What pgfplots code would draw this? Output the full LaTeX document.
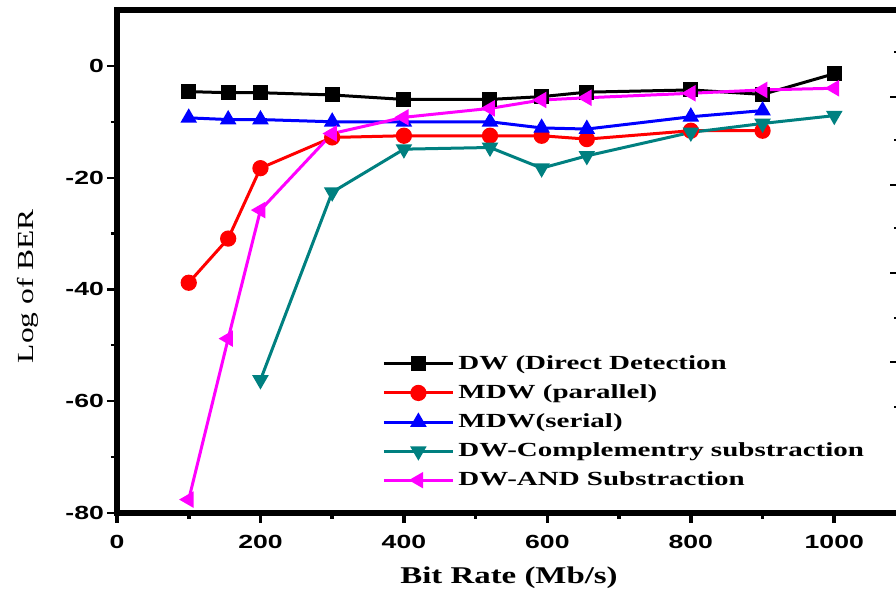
\documentclass[border=0pt]{standalone}
\usepackage{fontspec}
\setmainfont{Liberation Serif}
\newfontfamily\tickfont[FakeStretch=1.4]{Liberation Sans}
\newfontfamily\labfont[FakeStretch=1.37]{Liberation Serif}
\newfontfamily\legfont[FakeStretch=1.45]{Liberation Serif}
\usepackage{pgfplots}
\pgfplotsset{compat=1.18}
\definecolor{cteal}{RGB}{0,128,128}
\definecolor{cmag}{RGB}{255,0,255}
\begin{document}
\begin{tikzpicture}
\path[use as bounding box] (-58.5pt,-42.5pt) rectangle (389.5pt,256.5pt);
% stray ticks on right edge (from the neighbouring panel)
\begin{axis}[
  scale only axis,
  width=392pt, height=251.5pt,
  xmin=117, xmax=901, ymin=-513, ymax=-10,
  axis line style={draw=none},
  tick pos=right,
  tick align=inside,
  xtick=\empty,
  ytick={-362,-273,-185,-97}, minor ytick={-407,-318,-228,-140,-52},
  yticklabels={},
  every tick/.style={black, line width=1pt},
  major tick length=5.5pt, minor tick length=3.5pt,
]
\end{axis}
\begin{axis}[
  scale only axis,
  width=392pt, height=251.5pt,
  xmin=0, xmax=1093, ymin=-80, ymax=10,
  x axis line style={line width=1.4pt},
  y axis line style={line width=3pt},
  tick pos=left,
  tick align=outside,
  xtick={0,200,400,600,800,1000},
  xticklabels={0,200,400,600,800,1000},
  minor xtick={100,300,500,700,900},
  ytick={-80,-60,-40,-20,0},
  yticklabels={-80,-60,-40,-20,0},
  minor ytick={-70,-50,-30,-10},
  major tick length=5pt, minor tick length=3pt,
  xtick style={black, line width=1.8pt},
  ytick style={black, line width=1.1pt},
  ticklabel style={font=\tickfont\bfseries\fontsize{9.5}{10}\selectfont},
  yticklabel style={xshift=2pt},
  xticklabel style={yshift=-2.5pt},
  every axis y label/.style={at={(axis description cs:-0.114,0.451)}, rotate=90, anchor=center, font=\labfont\fontsize{11.5}{13}\selectfont},
  every axis x label/.style={at={(axis description cs:0.5,0)}, anchor=center, yshift=-32.5pt, font=\labfont\bfseries\fontsize{12}{13}\selectfont},
  xlabel={Bit Rate (Mb/s)},
  ylabel={Log of BER},
  legend cell align=left,
  legend style={draw=none, fill=none, at={(axis description cs:0.338,0.322)}, anchor=north west, font=\legfont\bfseries\fontsize{10}{11}\selectfont, row sep=2.1pt, inner sep=0pt},
  legend image code/.code={\draw[mark repeat=2,mark phase=2,#1] plot coordinates {(0pt,0pt) (17.25pt,0pt) (34.5pt,0pt)};},
  every axis plot/.append style={line width=1.5pt, mark size=3.3pt},
]
\addplot[black, mark=square*, mark size=3pt] coordinates {
(100,-4.6) (155,-4.8) (200,-4.8) (300,-5.2) (400,-6.0) (520,-6.0) (592,-5.5) (655,-4.7) (800,-4.3) (900,-5.1) (1000,-1.4)};
\addlegendentry{DW (Direct Detection}
\addplot[red, mark=*] coordinates {
(100,-38.8) (155,-30.9) (200,-18.3) (300,-12.8) (400,-12.5) (520,-12.5) (592,-12.5) (655,-13.1) (800,-11.6) (900,-11.6)};
\addlegendentry{MDW (parallel)}
\addplot[blue, mark=triangle*] coordinates {
(100,-9.3) (155,-9.6) (200,-9.6) (300,-10.0) (400,-10.0) (520,-10.0) (592,-11.1) (655,-11.3) (800,-9.1) (900,-8.0)};
\addlegendentry{MDW(serial)}
\addplot[cteal, mark=triangle*, mark options={rotate=180}] coordinates {
(200,-56.2) (300,-22.6) (400,-14.9) (520,-14.6) (592,-18.3) (655,-16.1) (800,-11.9) (900,-10.3) (1000,-8.9)};
\addlegendentry{DW-Complementry substraction}
\addplot[cmag, mark=triangle*, mark options={rotate=90}] coordinates {
(100,-77.6) (155,-48.8) (200,-25.8) (300,-12.1) (400,-9.2) (520,-7.6) (592,-6.1) (655,-5.7) (800,-4.9) (900,-4.3) (1000,-4.0)};
\addlegendentry{DW-AND Substraction}
\end{axis}
\end{tikzpicture}
\end{document}
